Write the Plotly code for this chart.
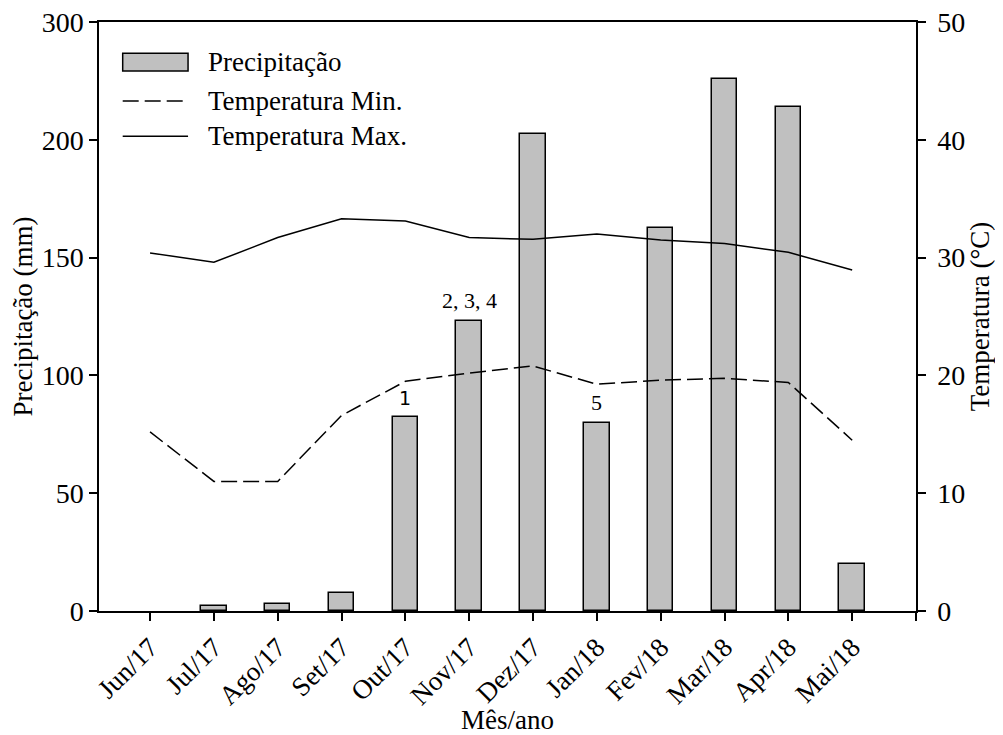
import plotly.graph_objects as go

months = ["Jun/17", "Jul/17", "Ago/17", "Set/17", "Out/17", "Nov/17",
          "Dez/17", "Jan/18", "Fev/18", "Mar/18", "Apr/18", "Mai/18"]
precip = [0, 2.1, 3.1, 7.5, 82.3, 123.1, 202.5, 79.8, 162.7, 225.8, 213.9, 20.0]
tmin = [15.2, 11.0, 11.0, 16.6, 19.5, 20.2, 20.8, 19.25, 19.6, 19.75, 19.4, 14.5]
tmax = [30.4, 29.6, 31.7, 33.3, 33.1, 31.7, 31.55, 32.0, 31.5, 31.2, 30.45, 28.95]

y1_tickvals = [0, 50, 100, 150, 200, 250]
y1_ticktext = ["0", "50", "100", "150", "200", "300"]
y2_tickvals = [0, 10, 20, 30, 40, 50]

notes = {4: "1", 5: "2, 3, 4", 7: "5"}

legend_names = ["Precipitação", "Temperatura Min.", "Temperatura Max."]

xs = list(range(len(months)))
FONT = "Liberation Serif, Times New Roman, serif"
YTICK = 28
XTICK = 27
TITLE = 27

fig = go.Figure()
fig.add_trace(go.Bar(x=xs, y=precip, width=0.4, name=legend_names[0],
                     marker=dict(color="#c0c0c0",
                                 line=dict(color="black",
                                           width=[0 if v == 0 else 1.5 for v in precip])),
                     yaxis="y"))
fig.add_trace(go.Scatter(x=xs, y=tmin, mode="lines", name=legend_names[1],
                         line=dict(color="black", width=1.5, dash="16px,6px"),
                         yaxis="y2"))
fig.add_trace(go.Scatter(x=xs, y=tmax, mode="lines", name=legend_names[2],
                         line=dict(color="black", width=1.5),
                         yaxis="y2"))

note_fonts = {"1": ("DejaVu Sans", 19), "2, 3, 4": (FONT, 22), "5": (FONT, 22)}
for i, txt in notes.items():
    fam, sz = note_fonts[txt]
    fig.add_annotation(x=i, y=precip[i], xref="x", yref="y", text=txt,
                       showarrow=False, yanchor="bottom", yshift=6,
                       font=dict(family=fam, size=sz, color="black"))

# manual legend
fig.add_shape(type="rect", xref="paper", yref="paper",
              x0=0.029, x1=0.109, y0=0.917, y1=0.947,
              fillcolor="#c0c0c0", line=dict(color="black", width=1.5))
fig.add_shape(type="line", xref="paper", yref="paper",
              x0=0.029, x1=0.109, y0=0.866, y1=0.866,
              line=dict(color="black", width=1.5, dash="16px,6px"))
fig.add_shape(type="line", xref="paper", yref="paper",
              x0=0.029, x1=0.109, y0=0.806, y1=0.806,
              line=dict(color="black", width=1.5))
for name, yp in zip(legend_names, [0.932, 0.866, 0.806]):
    fig.add_annotation(x=0.131, y=yp, xref="paper", yref="paper", text=name,
                       showarrow=False, xanchor="left", yanchor="middle",
                       font=dict(family=FONT, size=27, color="black"))

fig.update_layout(
    width=995, height=727,
    margin=dict(l=91, r=87, t=14, b=124, autoexpand=False),
    paper_bgcolor="white", plot_bgcolor="white",
    showlegend=False,
    font=dict(family=FONT, size=YTICK, color="black"),
    bargap=0,
    xaxis=dict(range=[-0.8, 12], tickmode="array", tickvals=xs + [12],
               ticktext=months + [""], tickangle=-45, automargin=False,
               ticklabeloverflow="allow",
               ticks="outside", ticklen=8, tickwidth=1.5, tickcolor="black",
               showline=True, linecolor="black", linewidth=1.5, mirror=True,
               showgrid=False, zeroline=False,
               title=dict(text="Mês/ano", font=dict(size=TITLE), standoff=0),
               tickfont=dict(size=XTICK)),
    yaxis=dict(range=[0, 250], tickmode="array", tickvals=y1_tickvals,
               ticktext=y1_ticktext, automargin=True,
               ticklabeloverflow="allow",
               ticks="outside", ticklen=8, tickwidth=1.5, tickcolor="black",
               showline=True, linecolor="black", linewidth=1.5,
               showgrid=False, zeroline=False,
               title=dict(text="Precipitação (mm)", font=dict(size=TITLE), standoff=8),
               tickfont=dict(size=YTICK)),
    yaxis2=dict(range=[0, 50], overlaying="y", side="right", tickmode="array",
                tickvals=y2_tickvals, automargin=True, ticklabelstandoff=6,
                ticklabeloverflow="allow",
                ticks="outside", ticklen=8, tickwidth=1.5, tickcolor="black",
                showline=True, linecolor="black", linewidth=1.5,
                showgrid=False, zeroline=False,
                title=dict(text="Temperatura (°C)", font=dict(size=TITLE), standoff=6),
                tickfont=dict(size=YTICK)),
)

fig.write_html("out.html")
